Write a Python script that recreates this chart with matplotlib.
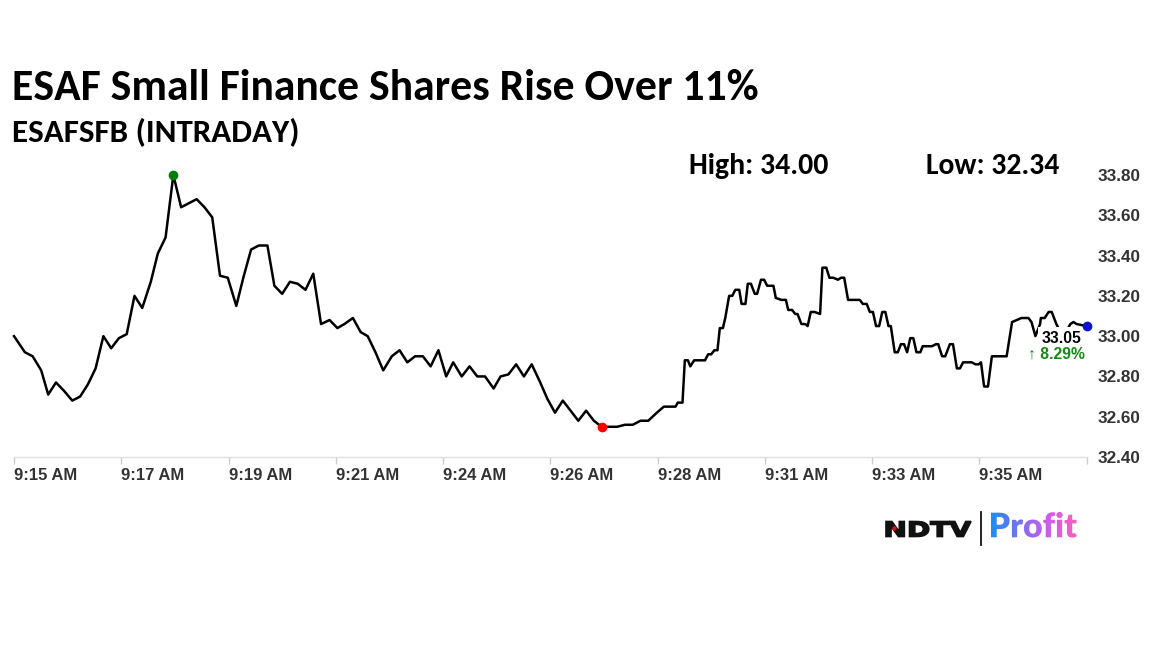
import matplotlib
matplotlib.use("Agg")
import matplotlib.pyplot as plt
import numpy as np
from matplotlib import font_manager
from matplotlib.textpath import TextPath
from matplotlib.font_manager import FontProperties
from matplotlib.patches import PathPatch, Circle
from matplotlib.transforms import Affine2D
from matplotlib.colors import LinearSegmentedColormap

# ---------------- data ----------------
title = "ESAF Small Finance Shares Rise Over 11%"
subtitle = "ESAFSFB (INTRADAY)"
high_text = "High: 34.00"
low_text = "Low: 32.34"
last_price_text = "33.05"
change_text = "\u2191 8.29%"

# seconds after 9:15 AM
secs = [0, 14, 24, 35, 44, 54, 64, 75, 85, 95,
        105, 115, 125, 135, 145, 155, 165, 176, 185, 195,
        205, 215, 225, 235, 245, 255, 265, 275, 286, 295,
        305, 315, 326, 335, 345, 355, 365, 375, 385, 395,
        406, 416, 425, 436, 446, 455, 465, 475, 486, 496,
        506, 516, 526, 536, 546, 556, 565, 576, 586, 596,
        606, 617, 626, 636, 646, 656, 666, 677, 686, 696,
        706, 716, 726, 736, 746, 756, 767, 776, 786, 796,
        806, 816, 827, 836, 851, 854, 860, 863, 867, 870,
        875, 889, 893, 897, 901, 905, 908, 912, 915, 920,
        924, 928, 933, 936, 941, 944, 948, 953, 956, 961,
        965, 969, 977, 980, 987, 993, 996, 1001, 1005, 1008,
        1013, 1018, 1021, 1025, 1030, 1037, 1040, 1045, 1049, 1054,
        1060, 1064, 1068, 1073, 1088, 1092, 1097, 1101, 1105, 1109,
        1113, 1117, 1121, 1125, 1128, 1133, 1137, 1141, 1145, 1149,
        1153, 1157, 1161, 1166, 1169, 1181, 1186, 1189, 1194, 1198,
        1204, 1208, 1213, 1217, 1221, 1232, 1237, 1241, 1244, 1248,
        1253, 1258, 1277, 1284, 1290, 1296, 1301, 1305, 1309, 1314,
        1320, 1321, 1326, 1331, 1335, 1341, 1346, 1353, 1359, 1363,
        1367, 1380]

price = [33.00, 32.92, 32.90, 32.83, 32.71, 32.77, 32.73, 32.68, 32.70, 32.76,
         32.84, 33.00, 32.94, 32.99, 33.01, 33.20, 33.14, 33.27, 33.41, 33.49,
         33.80, 33.64, 33.66, 33.68, 33.64, 33.59, 33.30, 33.29, 33.15, 33.29,
         33.43, 33.45, 33.45, 33.25, 33.21, 33.27, 33.26, 33.23, 33.31, 33.06,
         33.08, 33.04, 33.06, 33.09, 33.02, 33.00, 32.92, 32.83, 32.90, 32.93,
         32.87, 32.90, 32.90, 32.85, 32.93, 32.80, 32.87, 32.80, 32.85, 32.80,
         32.80, 32.74, 32.80, 32.81, 32.86, 32.80, 32.86, 32.77, 32.69, 32.62,
         32.68, 32.63, 32.58, 32.63, 32.58, 32.55, 32.55, 32.55, 32.56, 32.56,
         32.58, 32.58, 32.62, 32.65, 32.65, 32.67, 32.67, 32.88, 32.88, 32.85,
         32.88, 32.88, 32.91, 32.91, 32.93, 32.93, 33.04, 33.04, 33.09, 33.20,
         33.20, 33.23, 33.23, 33.16, 33.16, 33.26, 33.26, 33.21, 33.21, 33.28,
         33.28, 33.25, 33.25, 33.19, 33.18, 33.18, 33.13, 33.13, 33.11, 33.11,
         33.06, 33.06, 33.05, 33.12, 33.12, 33.11, 33.34, 33.34, 33.29, 33.29,
         33.28, 33.29, 33.29, 33.18, 33.18, 33.16, 33.16, 33.12, 33.12, 33.05,
         33.05, 33.12, 33.12, 33.05, 33.05, 32.92, 32.92, 32.96, 32.96, 32.92,
         32.99, 32.99, 32.92, 32.92, 32.95, 32.95, 32.96, 32.96, 32.90, 32.90,
         32.96, 32.96, 32.84, 32.84, 32.87, 32.87, 32.86, 32.86, 32.87, 32.75,
         32.75, 32.90, 32.90, 33.07, 33.08, 33.09, 33.09, 33.09, 33.07, 33.00,
         33.06, 33.09, 33.09, 33.12, 33.12, 33.06, 33.02, 33.02, 33.06, 33.07,
         33.06, 33.05]

x_tick_labels = ["9:15 AM", "9:17 AM", "9:19 AM", "9:21 AM", "9:24 AM",
                 "9:26 AM", "9:28 AM", "9:31 AM", "9:33 AM", "9:35 AM", ""]
y_ticks = [32.40, 32.60, 32.80, 33.00, 33.20, 33.40, 33.60, 33.80]

# ---------------- fonts ----------------
available = {f.name for f in font_manager.fontManager.ttflist}
def pick(*names):
    for n in names:
        if n in available:
            return n
    return "DejaVu Sans"

head_font = pick("Carlito", "Liberation Sans Narrow", "Open Sans", "Liberation Sans")
arial = pick("Liberation Sans", "Roboto", "DejaVu Sans")

# ---------------- figure ----------------
W, H, DPI = 1152, 648, 100
fig = plt.figure(figsize=(W / DPI, H / DPI), dpi=DPI, facecolor="white")
renderer = fig.canvas.get_renderer()

x0p, x1p, ytop, ybot = 14, 1086.7, 175, 457
ax = fig.add_axes([x0p / W, 1 - ybot / H, (x1p - x0p) / W, (ybot - ytop) / H])
ax.set_facecolor("white")

secs_a = np.array(secs, dtype=float)
price_a = np.array(price)

ax.plot(secs_a, price_a, color="black", lw=1.8, clip_on=False, zorder=3)
imax = int(np.argmax(price_a))
imin = int(np.argmin(price_a))
ax.plot(secs_a[imax], price_a[imax], "o", color="#008000", ms=6, clip_on=False, zorder=6)
ax.plot(secs_a[imin], price_a[imin], "o", color="#ff0000", ms=6, clip_on=False, zorder=6)
ax.plot(secs_a[-1], price_a[-1], "o", color="#1010d0", ms=6, clip_on=False, zorder=6)

ax.set_xlim(secs_a[0], secs_a[-1])
ax.set_ylim(y_ticks[0], y_ticks[-1])
xt = np.linspace(secs_a[0], secs_a[-1], len(x_tick_labels))
ax.set_xticks(xt)
ax.set_xticklabels(x_tick_labels, fontsize=12, fontweight="bold",
                   family=arial, color="#333333", ha="left")
ax.set_yticks(y_ticks)
ax.set_yticklabels([f"{v:.2f}" for v in y_ticks], fontsize=12.3,
                   fontweight="bold", family=arial, color="#333333")
ax.yaxis.tick_right()
ax.tick_params(axis="y", length=0, pad=8)
ax.tick_params(axis="x", length=5, width=1, color="#cccccc", pad=3)
for s in ("top", "left", "right"):
    ax.spines[s].set_visible(False)
ax.spines["bottom"].set_color("#e0e0e0")
ax.spines["bottom"].set_linewidth(1)

# last value label
ax.annotate(last_price_text, xy=(secs_a[-1], price_a[-1]), xytext=(-18, -8.8),
            textcoords="offset points", ha="center", va="center", fontsize=11.3,
            fontweight="bold", family=arial, color="black", zorder=5,
            bbox=dict(fc="white", ec="none", pad=3))
ax.annotate(change_text, xy=(secs_a[-1], price_a[-1]), xytext=(-21.6, -20.2),
            textcoords="offset points", ha="center", va="center", fontsize=11.3,
            fontweight="bold", family=[arial, "DejaVu Sans"], color="#138a13",
            zorder=5, bbox=dict(fc="white", ec="none", pad=1))

# ---------------- headings ----------------
def fit_text(px, py, s, width_px, **kw):
    t = fig.text(px / W, 1 - py / H, s, fontsize=20, ha="left", va="baseline", **kw)
    w = t.get_window_extent(renderer=renderer).width
    t.set_fontsize(20 * width_px / w)
    return t

fit_text(12, 100, title, 748, family=head_font, fontweight="bold", color="black")
fit_text(12, 142, subtitle, 288, family=head_font, fontweight="bold", color="black")
fit_text(689, 174, high_text, 139, family=head_font, fontweight="bold", color="black")
fit_text(926, 174, low_text, 133, family=head_font, fontweight="bold", color="black")

# ---------------- logo ----------------
lax = fig.add_axes([880 / W, (H - 548) / H, 205 / W, 40 / H])
lax.set_xlim(880, 1085)
lax.set_ylim(H - 548, H - 508)
lax.axis("off")

fp_ndtv = FontProperties(family="DejaVu Sans", weight="bold")
p1 = TextPath((0, 0), "NDTV", size=100, prop=fp_ndtv)
e1 = p1.get_extents()
t1 = (Affine2D().translate(-e1.x0, -e1.y0)
      .scale((971 - 886) / e1.width, (536.5 - 521.5) / e1.height)
      .translate(886, H - 536.5) + lax.transData)
lax.add_patch(PathPatch(p1, transform=t1, fc="#111111", ec="#111111", lw=1.2))
lax.add_patch(Circle((894.5, H - 528.5), 2.2, fc="#e01010", ec="none", zorder=4))
lax.plot([981, 981], [H - 545, H - 511.7], color="#111111", lw=1.3)

fp_profit = FontProperties(family=pick("Lato", "Open Sans", "DejaVu Sans"), weight="heavy")
p2 = TextPath((0, 0), "Profit", size=100, prop=fp_profit)
e2 = p2.get_extents()
sc = (1077 - 991) / e2.width
t2 = (Affine2D().translate(-e2.x0, 0).scale(sc).translate(991, H - 537.3) + lax.transData)
patch2 = PathPatch(p2, transform=t2, fc="none", ec="none")
lax.add_patch(patch2)
cmap = LinearSegmentedColormap.from_list("prof", ["#1890f0", "#5f78f0", "#a864f2", "#e05ae0", "#f562b8"])
im = lax.imshow(np.linspace(0, 1, 256)[None, :], cmap=cmap, aspect="auto",
                extent=[990, 1078, H - 545, H - 505], interpolation="bilinear")
im.set_clip_path(patch2)
lax.set_xlim(880, 1085)
lax.set_ylim(H - 548, H - 508)

fig.savefig("out.png", dpi=DPI, facecolor="white")
